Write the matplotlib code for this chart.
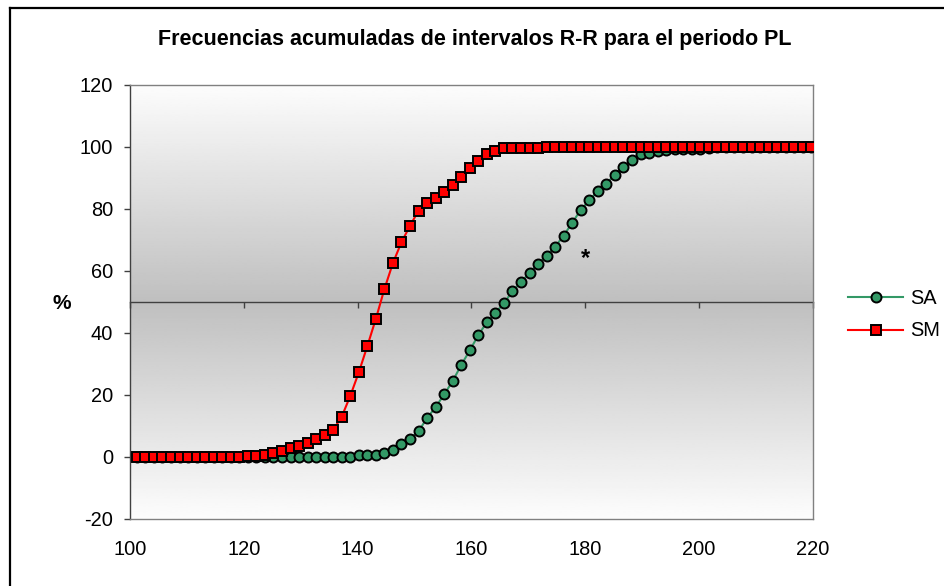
import numpy as np
import matplotlib
matplotlib.use('Agg')
import matplotlib.pyplot as plt
from matplotlib.lines import Line2D

plt.rcParams['font.family'] = ['Liberation Sans', 'DejaVu Sans']
plt.rcParams['axes.unicode_minus'] = False

# =========================================================
# Datos
# =========================================================
rr_ms = [
    101.2, 102.7, 104.2, 105.7, 107.2, 108.7, 110.2, 111.7, 113.2, 114.7,
    116.2, 117.7, 119.2, 120.7, 122.2, 123.7, 125.2, 126.7, 128.2, 129.7,
    131.2, 132.7, 134.2, 135.7, 137.2, 138.7, 140.2, 141.7, 143.2, 144.7,
    146.2, 147.7, 149.2, 150.7, 152.2, 153.7, 155.2, 156.7, 158.2, 159.7,
    161.2, 162.7, 164.2, 165.7, 167.2, 168.7, 170.2, 171.7, 173.2, 174.7,
    176.2, 177.7, 179.2, 180.7, 182.2, 183.7, 185.2, 186.7, 188.2, 189.7,
    191.2, 192.7, 194.2, 195.7, 197.2, 198.7, 200.2, 201.7, 203.2, 204.7,
    206.2, 207.7, 209.2, 210.7, 212.2, 213.7, 215.2, 216.7, 218.2, 219.7,
]

sa_pct = [
    0, 0, 0, 0, 0, 0, 0, 0, 0, 0,
    0, 0, 0, 0, 0, 0, 0, 0, 0, 0,
    0, 0, 0, 0, 0, 0, 0.8, 0.8, 0.8, 1.2,
    2.4, 4.2, 5.9, 8.3, 12.6, 16.1, 20.2, 24.5, 29.7, 34.4,
    39.3, 43.5, 46.5, 49.6, 53.5, 56.4, 59.4, 62.4, 65.0, 67.9,
    71.4, 75.6, 79.7, 82.8, 85.8, 88.2, 91.1, 93.6, 95.8, 97.6,
    98.2, 98.7, 99.0, 99.2, 99.3, 99.5, 99.5, 99.7, 100, 100,
    100, 100, 100, 100, 100, 100, 100, 100, 100, 100,
]

sm_pct = [
    0, 0, 0, 0, 0, 0, 0, 0, 0, 0,
    0, 0, 0, 0.4, 0.4, 0.5, 1.2, 1.9, 2.9, 3.6,
    4.6, 5.7, 7.0, 8.7, 13.0, 19.7, 27.3, 35.8, 44.6, 54.2,
    62.6, 69.3, 74.6, 79.5, 81.8, 83.7, 85.4, 87.7, 90.2, 93.1,
    95.4, 97.8, 98.6, 99.6, 99.6, 99.6, 99.6, 99.6, 100, 100,
    100, 100, 100, 100, 100, 100, 100, 100, 100, 100,
    100, 100, 100, 100, 100, 100, 100, 100, 100, 100,
    100, 100, 100, 100, 100, 100, 100, 100, 100, 100,
]

x_ticks = [100, 120, 140, 160, 180, 200, 220]
y_ticks = [-20, 0, 20, 40, 60, 80, 100, 120]

titulo = 'Frecuencias acumuladas de intervalos R-R para el periodo PL'

# =========================================================
# Figura
# =========================================================
W, H = 944, 586
fig = plt.figure(figsize=(W / 100, H / 100), dpi=100)
fig.patch.set_facecolor('white')
ax = fig.add_axes([130 / W, 67 / H, 683 / W, 434 / H])

# fondo degradado blanco -> gris -> blanco
t = np.linspace(0, 1, 256)
grad = 0.99 - 0.24 * (1 - np.abs(2 * t - 1))
ax.imshow(grad[:, None], cmap='gray', vmin=0, vmax=1, extent=(0, 1, 0, 1),
          transform=ax.transAxes, aspect='auto', interpolation='bilinear',
          zorder=0)

ax.plot(rr_ms, sa_pct, color='#339966', lw=1.5, marker='o', ms=7.2,
        mfc='#339966', mec='black', mew=1.4, label='SA', zorder=3)
ax.plot(rr_ms, sm_pct, color='#ff0000', lw=1.5, marker='s', ms=7.4,
        mfc='#ff0000', mec='black', mew=1.4, label='SM', zorder=4)

ax.set_xlim(100, 220)
ax.set_ylim(-20, 120)
ax.set_xticks(x_ticks)
ax.set_yticks(y_ticks)

for s in ['top', 'right', 'bottom']:
    ax.spines[s].set_color('#808080')
    ax.spines[s].set_linewidth(1.0)
ax.spines['left'].set_color('#404040')
ax.spines['left'].set_linewidth(1.0)

ax.tick_params(axis='x', length=0, pad=15, labelsize=14.4)
ax.tick_params(axis='y', direction='out', length=4.5, width=1.0,
               color='#404040', pad=7.5, labelsize=14.4)

# eje horizontal cruzando en 50
sec = ax.secondary_xaxis(0.5)
sec.set_alignment('bottom')
sec.set_xticks(x_ticks)
sec.tick_params(axis='x', direction='out', length=4, width=1.0,
                color='#404040', labelbottom=False, labeltop=False)
for s in sec.spines.values():
    s.set_color('#404040')
    s.set_linewidth(1.0)

ax.text(180, 64, '*', fontsize=17, fontweight='bold', ha='center',
        va='center', zorder=5)

fig.text(0.503, 1 - 40 / H, titulo, fontsize=15.5, fontweight='bold',
         ha='center', va='center')
fig.text(62 / W, 1 - 304 / H, '%', fontsize=15, fontweight='bold',
         ha='center', va='center')

ax.legend(loc='center left', bbox_to_anchor=(848 / W, 1 - 314.5 / H),
          bbox_transform=fig.transFigure, frameon=False, fontsize=14.4,
          handlelength=2.75, handletextpad=0.35, labelspacing=0.7,
          borderpad=0, borderaxespad=0)

# marco del gráfico (solo izquierda y arriba visibles)
fig.add_artist(Line2D([10 / W, 10 / W], [0, 1 - 8 / H], color='black',
                      lw=1.6, transform=fig.transFigure))
fig.add_artist(Line2D([10 / W, 1], [1 - 8 / H, 1 - 8 / H], color='black',
                      lw=1.6, transform=fig.transFigure))

fig.savefig('out.png', dpi=100)
